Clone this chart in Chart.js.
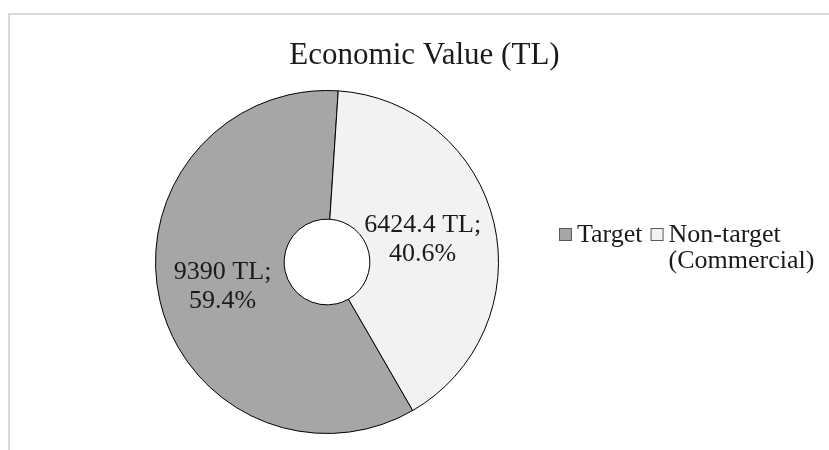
<!DOCTYPE html>
<html>
<head>
<meta charset="utf-8">
<script src="https://cdn.jsdelivr.net/npm/chart.js@4.4.1/dist/chart.umd.min.js"></script>
<style>
  html, body { margin: 0; padding: 0; background: #fff; }
  canvas { display: block; }
</style>
</head>
<body>
<canvas id="econChart" width="829" height="450"></canvas>
<script>
// Data
const categories = ['Target', 'Non-target (Commercial)'];
const values = [9390, 6424.4];
const sliceColors = ['#a6a6a6', '#f2f2f2'];
const chartTitle = 'Economic Value (TL)';

const SERIF = "'Liberation Serif', 'Times New Roman', serif";
const TEXT_COLOR = '#1a1a1a';
// how far out (0 = hole edge, 1 = rim) each slice label sits
const labelRadius = [0.5, 0.43];

const total = values.reduce((a, b) => a + b, 0);

const decorPlugin = {
    id: 'econDecor',
    beforeDraw(chart) {
        const ctx = chart.ctx;
        ctx.save();
        ctx.strokeStyle = '#d9d9d9';
        ctx.lineWidth = 2;
        ctx.strokeRect(9, 14, 900, 500);
        ctx.restore();
    },
    afterDatasetsDraw(chart) {
        const ctx = chart.ctx;
        const meta = chart.getDatasetMeta(0);
        ctx.save();
        ctx.font = `26px ${SERIF}`;
        ctx.fillStyle = TEXT_COLOR;
        ctx.textAlign = 'center';
        ctx.textBaseline = 'middle';
        meta.data.forEach((arc, i) => {
            const p = arc.getProps(['x', 'y', 'startAngle', 'endAngle', 'innerRadius', 'outerRadius'], true);
            const mid = (p.startAngle + p.endAngle) / 2;
            const r = p.innerRadius + (p.outerRadius - p.innerRadius) * labelRadius[i];
            const cx = p.x + Math.cos(mid) * r;
            const cy = p.y + Math.sin(mid) * r;
            const pct = (values[i] / total * 100).toFixed(1);
            ctx.fillText(`${values[i]} TL;`, cx, cy - 14.5);
            ctx.fillText(`${pct}%`, cx, cy + 14.5);
        });
        ctx.restore();
    },
    afterDraw(chart) {
        const ctx = chart.ctx;
        ctx.save();
        // title
        ctx.font = `31px ${SERIF}`;
        ctx.fillStyle = TEXT_COLOR;
        ctx.textAlign = 'center';
        ctx.textBaseline = 'alphabetic';
        ctx.fillText(chartTitle, 424.5, 64);

        // legend (wraps at the right edge)
        ctx.font = `26px ${SERIF}`;
        ctx.textAlign = 'left';
        let x = 559;
        const baseline = 242, lineH = 26, box = 12;
        categories.forEach((label, i) => {
            ctx.fillStyle = sliceColors[i];
            ctx.fillRect(x + 0.5, baseline - 14 + 0.5, box, box);
            ctx.strokeStyle = '#595959';
            ctx.lineWidth = 1;
            ctx.strokeRect(x + 0.5, baseline - 14 + 0.5, box, box);
            const tx = x + box + 6;
            const words = label.split(' ');
            const lines = [];
            let cur = '';
            words.forEach(w => {
                const test = cur ? cur + ' ' + w : w;
                if (cur && tx + ctx.measureText(test).width > chart.width) {
                    lines.push(cur);
                    cur = w;
                } else {
                    cur = test;
                }
            });
            lines.push(cur);
            ctx.fillStyle = TEXT_COLOR;
            let widest = 0;
            lines.forEach((ln, k) => {
                ctx.fillText(ln, tx, baseline + k * lineH);
                widest = Math.max(widest, ctx.measureText(ln).width);
            });
            x = tx + ctx.measureText(lines[0]).width + 8;
        });
        ctx.restore();
    }
};

new Chart(document.getElementById('econChart'), {
    type: 'doughnut',
    data: {
        labels: categories,
        datasets: [{
            data: values,
            backgroundColor: sliceColors,
            borderColor: '#000000',
            borderWidth: 1
        }]
    },
    options: {
        responsive: false,
        devicePixelRatio: 1,
        animation: false,
        rotation: 150,
        cutout: '25%',
        layout: { padding: { left: 155, right: 330, top: 90, bottom: 16 } },
        plugins: {
            legend: { display: false },
            title: { display: false },
            tooltip: { enabled: false }
        }
    },
    plugins: [decorPlugin]
});
</script>
</body>
</html>
